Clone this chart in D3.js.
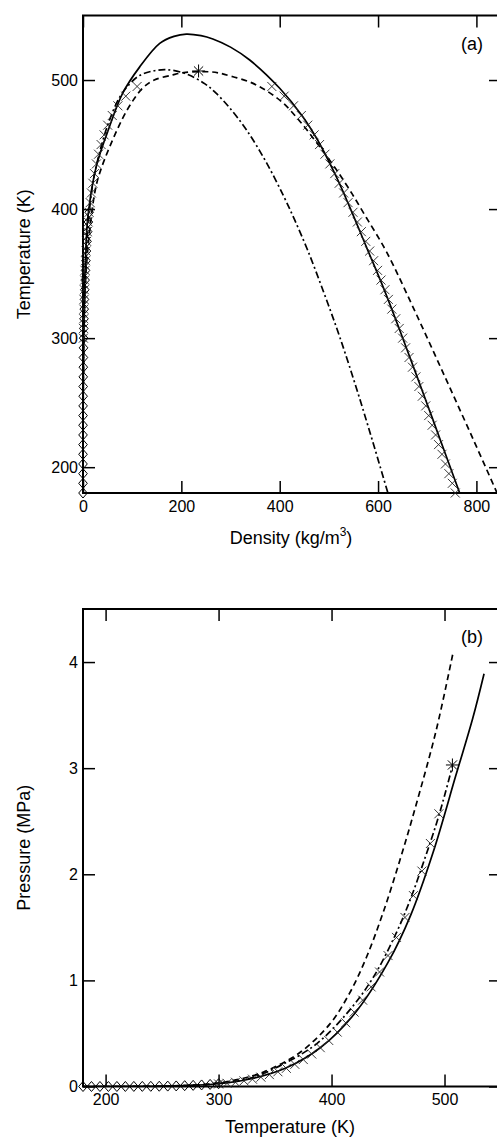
<!DOCTYPE html>
<html><head><meta charset="utf-8">
<script src="https://cdn.jsdelivr.net/npm/d3@7"></script>
<style>
body{margin:0;background:#fff}
svg{display:block}
text{font-family:"Liberation Sans",Arial,Helvetica,sans-serif;fill:#000}
</style>
</head><body>
<svg id="c" width="497" height="1140"></svg>
<script>
// ---------- tick labels ----------
const densTicks = [0, 200, 400, 600, 800];
const tempTicksA = [200, 300, 400, 500];
const tempTicksB = [200, 300, 400, 500];
const presTicks = [0, 1, 2, 3, 4];

// ---------- panel (a): coexistence curves (density kg/m3, temperature K) ----------
const solidA_rho = [0.05, 0.5, 2, 5, 10, 27, 54, 81, 115, 156, 185, 210, 240, 264, 300, 339, 400, 447, 477, 515, 542, 576, 612, 644, 694, 742, 766];
const solidA_T   = [180, 260, 320, 360, 394, 433, 464, 490, 510, 528.4, 533.8, 535.6, 534.4, 531.8, 525.5, 515.5, 493.6, 471.6, 453.5, 425.1, 401.9, 370.9, 338, 306.3, 255, 205, 180];

const dashedA_rho = [0.05, 0.5, 2, 6, 14, 25, 34, 54, 90, 122, 145, 183, 205, 235, 260, 278, 305, 339, 372, 406, 440, 474, 508, 542, 576, 617, 676, 736, 793, 842];
const dashedA_T   = [180, 260, 310, 350, 385, 415, 428, 448, 477, 494, 500, 504, 505.8, 506.5, 506.3, 505.3, 502.5, 498.5, 492, 482.5, 468.5, 452, 434.5, 415, 393.5, 367, 320, 270, 222, 180];

const dashdotA_rho = [0.05, 0.5, 2, 5, 10, 20, 38, 55, 75, 95, 115, 140, 170, 210, 248, 270, 297, 333, 373, 408, 430, 457, 490, 522, 557, 589, 620];
const dashdotA_T   = [180, 260, 310, 350, 385, 420, 450, 470, 487, 497, 503.5, 506.8, 508, 504.8, 497, 490, 479, 461, 436, 410, 392, 368, 335, 301, 260, 220, 180];

// experimental saturated densities (x markers)
const expT_liq = [180, 187.5, 195, 202.5, 210, 217.5, 225, 232.5, 240, 247.5, 255, 262.5, 270, 277.5, 285, 292.5, 300, 307.5, 315, 322.5, 330, 337.5, 345, 352.5, 360, 367.5, 375, 382.5, 390, 397.5, 405, 412.5, 420, 427.5, 435, 442.5, 450, 457.5, 465, 472.5, 480, 487.5, 495];
const expRho_liq = [757, 751, 744, 737, 730, 723, 717, 710, 703, 697, 690, 683, 677, 670, 663, 656, 650, 643, 636, 628, 621, 614, 606, 599, 591, 583, 575, 566, 558, 549, 539, 530, 521, 512, 502, 492, 481, 470, 457, 444, 428, 409, 384];
const expT_vap = [300, 307.5, 315, 322.5, 330, 337.5, 345, 352.5, 360, 367.5, 375, 382.5, 390, 397.5, 405, 412.5, 420, 427.5, 435, 442.5, 450, 457.5, 465, 472.5, 480, 487.5, 495];
const expRho_vap = [0.8, 1.1, 1.4, 1.7, 2.1, 2.7, 3.4, 4.2, 5.1, 6.2, 7.4, 8.8, 10.5, 12.4, 14.6, 17.1, 20.0, 23.3, 27.2, 31.6, 36.8, 42.9, 50.2, 59.5, 71, 87, 110];
const expP = [0.024, 0.030, 0.040, 0.053, 0.069, 0.088, 0.112, 0.139, 0.171, 0.209, 0.254, 0.306, 0.366, 0.434, 0.513, 0.601, 0.701, 0.814, 0.939, 1.079, 1.234, 1.405, 1.593, 1.799, 2.03, 2.29, 2.57];

// diamond markers
const diaT_A = [180, 187.5, 195, 202.5, 210, 217.5, 225, 232.5, 240, 247.5, 255, 262.5, 270, 277.5, 285, 292.5, 300, 307.5, 315, 322.5, 330, 337.5, 345, 352.5, 360, 367.5, 375, 382.5, 390, 397.5];
const diaRho_A = [0.0, 0.0, 0.01, 0.01, 0.02, 0.04, 0.06, 0.09, 0.14, 0.2, 0.28, 0.38, 0.5, 0.65, 0.85, 1.1, 1.3, 1.6, 2.0, 2.5, 3.0, 3.6, 4.3, 5.1, 6.0, 7.0, 8.2, 9.5, 11.0, 12.6];
const diaT_B = [180, 187.5, 195, 202.5, 210, 217.5, 225, 232.5, 240, 247.5, 255, 262.5, 270, 277.5, 285, 292.5, 300];
const diaP_B = [0, 0, 0.0001, 0.0001, 0.0002, 0.0004, 0.0006, 0.001, 0.0016, 0.0025, 0.0037, 0.0054, 0.0077, 0.0107, 0.0146, 0.0196, 0.026];

// critical point (asterisk)
const critRho = [235];
const critT = [507];
const critP = [3.03];

// ---------- panel (b): vapour pressure curves (K, MPa) ----------
const solidB_T = [180, 250, 300, 330, 360, 390, 420, 450, 470, 490, 510, 525, 535];
const solidB_P = [0, 0.003, 0.026, 0.075, 0.176, 0.365, 0.681, 1.169, 1.613, 2.21, 2.93, 3.47, 3.89];
const dashedB_T = [180, 260, 300, 330, 345, 372, 398.6, 416, 431, 446, 461, 475, 492.7, 507.4];
const dashedB_P = [0, 0.006, 0.034, 0.10, 0.16, 0.32, 0.59, 0.88, 1.22, 1.65, 2.15, 2.66, 3.36, 4.08];
const dashdotB_T = [180, 260, 300, 330, 357, 386.5, 416, 437, 457, 470, 482.3, 492.6, 500, 507];
const dashdotB_P = [0, 0.004, 0.028, 0.085, 0.21, 0.40, 0.72, 1.03, 1.44, 1.77, 2.14, 2.47, 2.74, 3.02];

// ---------- drawing ----------
const svg = d3.select("#c");
const zip = (a, b) => a.map((v, i) => [v, b[i]]);
const L = 83, R = 501;
const PA = {top: 15.5, bottom: 493};
const PB = {top: 609, bottom: 1086.5};

const xA = d3.scaleLinear().domain([0, 850]).range([L, R]);
const yA = d3.scaleLinear().domain([180, 550]).range([PA.bottom, PA.top]);
const xB = d3.scaleLinear().domain([180, 550]).range([L, R]);
const yB = d3.scaleLinear().domain([0, 4.5]).range([PB.bottom, PB.top]);

const defs = svg.append("defs");
defs.append("clipPath").attr("id", "clipA").append("rect")
  .attr("x", L).attr("y", PA.top).attr("width", R - L).attr("height", PA.bottom - PA.top);
defs.append("clipPath").attr("id", "clipB").append("rect")
  .attr("x", L).attr("y", PB.top).attr("width", R - L).attr("height", PB.bottom - PB.top);

const styles = {
  solid: {dash: null},
  dashed: {dash: "6,4"},
  dashdot: {dash: "7,3,2,3"}
};

function drawCurve(g, pts, x, y, style) {
  const line = d3.line().x(d => x(d[0])).y(d => y(d[1])).curve(d3.curveCatmullRom.alpha(0.5));
  g.append("path").attr("d", line(pts)).attr("fill", "none").attr("stroke", "#000")
    .attr("stroke-width", 1.7).attr("stroke-dasharray", styles[style].dash);
}
function drawX(g, pts, x, y) {
  const s = 4.5;
  g.selectAll(null).data(pts).join("path")
    .attr("d", d => { const cx = x(d[0]), cy = y(d[1]);
      return `M${cx - s},${cy - s}L${cx + s},${cy + s}M${cx - s},${cy + s}L${cx + s},${cy - s}`; })
    .attr("stroke", "#222").attr("stroke-width", 0.9).attr("fill", "none");
}
function drawDiamonds(g, pts, x, y) {
  g.selectAll(null).data(pts).join("path")
    .attr("d", d => { const cx = x(d[0]), cy = y(d[1]);
      return `M${cx},${cy - 5}L${cx + 4.3},${cy}L${cx},${cy + 5}L${cx - 4.3},${cy}Z`; })
    .attr("stroke", "#000").attr("stroke-width", 1).attr("fill", "none");
}
function drawStar(g, pts, x, y) {
  const s = 6.5;
  pts.forEach(d => {
    const cx = x(d[0]), cy = y(d[1]);
    [0, 45, 90, 135].forEach(a => {
      const r = a * Math.PI / 180, dx = s * Math.cos(r), dy = s * Math.sin(r);
      g.append("line").attr("x1", cx - dx).attr("y1", cy - dy).attr("x2", cx + dx).attr("y2", cy + dy)
        .attr("stroke", "#000").attr("stroke-width", 1);
    });
  });
}
function drawAxes(x, y, P, xt, yt) {
  const g = svg.append("g");
  const fmt = d3.format("d");
  const bot = g.append("g").attr("transform", `translate(0,${P.bottom})`)
    .call(d3.axisBottom(x).tickValues(xt).tickSize(-12).tickPadding(7.6).tickFormat(fmt));
  const top = g.append("g").attr("transform", `translate(0,${P.top})`)
    .call(d3.axisTop(x).tickValues(xt).tickSize(-12).tickFormat(""));
  const left = g.append("g").attr("transform", `translate(${L},0)`)
    .call(d3.axisLeft(y).tickValues(yt).tickSize(-12).tickPadding(5).tickFormat(fmt));
  const right = g.append("g").attr("transform", `translate(${R},0)`)
    .call(d3.axisRight(y).tickValues(yt).tickSize(-12).tickFormat(""));
  [bot, top, left, right].forEach(a => {
    a.select(".domain").remove();
    a.selectAll(".tick line").attr("stroke", "#000").attr("stroke-width", 1.5);
    a.selectAll(".tick text").attr("font-size", 16).attr("fill", "#000")
      .attr("font-family", "'Liberation Sans', Arial, sans-serif");
  });
  g.append("rect").attr("x", L).attr("y", P.top).attr("width", R - L).attr("height", P.bottom - P.top)
    .attr("fill", "none").attr("stroke", "#000").attr("stroke-width", 2);
  return g;
}

// Panel (a)
drawAxes(xA, yA, PA, densTicks, tempTicksA);
const gA = svg.append("g").attr("clip-path", "url(#clipA)");
drawCurve(gA, zip(solidA_rho, solidA_T), xA, yA, "solid");
drawCurve(gA, zip(dashedA_rho, dashedA_T), xA, yA, "dashed");
drawCurve(gA, zip(dashdotA_rho, dashdotA_T), xA, yA, "dashdot");
const mA = svg.append("g");
drawDiamonds(mA, zip(diaRho_A, diaT_A), xA, yA);
drawX(mA, zip(expRho_liq, expT_liq), xA, yA);
drawX(mA, zip(expRho_vap, expT_vap), xA, yA);
drawStar(mA, zip(critRho, critT), xA, yA);

// Panel (b)
drawAxes(xB, yB, PB, tempTicksB, presTicks);
const gB = svg.append("g").attr("clip-path", "url(#clipB)");
drawCurve(gB, zip(solidB_T, solidB_P), xB, yB, "solid");
drawCurve(gB, zip(dashedB_T, dashedB_P), xB, yB, "dashed");
drawCurve(gB, zip(dashdotB_T, dashdotB_P), xB, yB, "dashdot");
const mB = svg.append("g");
drawDiamonds(mB, zip(diaT_B, diaP_B), xB, yB);
drawX(mB, zip(expT_vap, expP), xB, yB);
drawStar(mB, zip(critT, critP), xB, yB);

// titles
const dt = svg.append("text").attr("x", (L + R) / 2 - 1).attr("y", 544).attr("text-anchor", "middle").attr("font-size", 18);
dt.append("tspan").text("Density (kg/m");
dt.append("tspan").attr("font-size", 12).attr("dy", -8).text("3");
dt.append("tspan").attr("dy", 8).text(")");
svg.append("text").attr("transform", `translate(30,${(PA.top + PA.bottom) / 2}) rotate(-90)`)
  .attr("text-anchor", "middle").attr("font-size", 18).text("Temperature (K)");
svg.append("text").attr("x", (L + R) / 2 - 2).attr("y", 1133).attr("text-anchor", "middle").attr("font-size", 18).text("Temperature (K)");
svg.append("text").attr("transform", `translate(30,${(PB.top + PB.bottom) / 2}) rotate(-90)`)
  .attr("text-anchor", "middle").attr("font-size", 18).text("Pressure (MPa)");
svg.append("text").attr("x", 472).attr("y", 50).attr("text-anchor", "middle").attr("font-size", 18).text("(a)");
svg.append("text").attr("x", 472).attr("y", 643).attr("text-anchor", "middle").attr("font-size", 18).text("(b)");
</script>
</body></html>
